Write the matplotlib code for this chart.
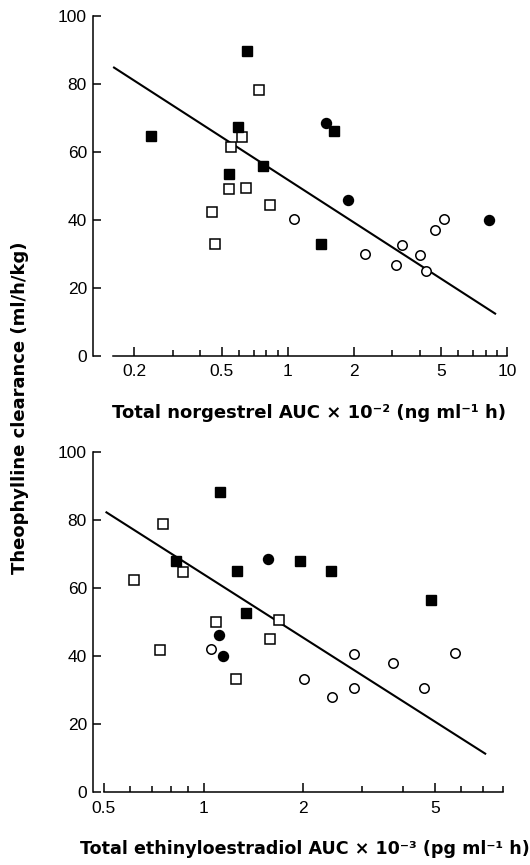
import matplotlib as mpl
mpl.use('Agg')
import matplotlib.pyplot as plt
from matplotlib.ticker import LogLocator, FixedLocator, NullFormatter

plt.rcParams['font.family'] = ['Liberation Sans', 'DejaVu Sans']
LABEL_FONT = ['DejaVu Sans']

# top panel: total norgestrel AUC x 10^-2
ng_fsq_x = [0.238, 0.653, 0.592, 0.540, 0.775, 1.62, 1.42]
ng_fsq_y = [64.6, 89.7, 67.4, 53.4, 55.9, 66.1, 33.0]
ng_fci_x = [1.50, 1.88, 8.30]
ng_fci_y = [68.6, 46.0, 40.0]
ng_osq_x = [0.738, 0.619, 0.552, 0.540, 0.646, 0.450, 0.468, 0.828]
ng_osq_y = [78.2, 64.3, 61.4, 49.1, 49.5, 42.3, 32.8, 44.4]
ng_oci_x = [1.065, 2.26, 3.11, 3.32, 4.01, 4.29, 4.71, 5.18]
ng_oci_y = [40.3, 30.0, 26.7, 32.6, 29.6, 24.9, 37.0, 40.3]
ng_fit_x = [0.160, 8.91]
ng_fit_y = [85.0, 12.3]

# bottom panel: total ethinyloestradiol AUC x 10^-3
ee_fsq_x = [1.119, 0.824, 1.265, 1.950, 2.42, 1.346, 4.85]
ee_fsq_y = [88.2, 68.0, 65.1, 68.0, 65.2, 52.8, 56.6]
ee_fci_x = [1.56, 1.114, 1.145]
ee_fci_y = [68.7, 46.2, 40.0]
ee_osq_x = [0.755, 0.615, 0.867, 0.741, 1.089, 1.25, 1.69, 1.59]
ee_osq_y = [78.8, 62.4, 64.7, 41.9, 50.2, 33.3, 50.7, 45.1]
ee_oci_x = [1.053, 2.01, 2.44, 2.85, 2.84, 3.74, 4.63, 5.73]
ee_oci_y = [42.1, 33.3, 27.9, 40.6, 30.6, 38.1, 30.7, 41.1]
ee_fit_x = [0.506, 7.13]
ee_fit_y = [82.5, 11.2]

yticks = [0, 20, 40, 60, 80, 100]


def draw_panel(ax, fsq, fci, osq, oci, fit, xlim, xbounds, xticks, xlabels,
               xlabel, label_xy, label_size):
    ax.plot(fit[0], fit[1], color='black', lw=1.5, solid_capstyle='butt', zorder=2)
    ax.plot(osq[0], osq[1], 's', ms=6.6, mfc='white', mec='black', mew=1.1,
            clip_on=False, zorder=3)
    ax.plot(oci[0], oci[1], 'o', ms=6.8, mfc='white', mec='black', mew=1.1,
            clip_on=False, zorder=3)
    ax.plot(fsq[0], fsq[1], 's', ms=7.2, mfc='black', mec='black',
            clip_on=False, zorder=4)
    ax.plot(fci[0], fci[1], 'o', ms=7.2, mfc='black', mec='black',
            clip_on=False, zorder=4)

    ax.set_xscale('log')
    ax.set_xlim(*xlim)
    ax.set_ylim(0, 100)
    for s in ['top', 'right']:
        ax.spines[s].set_visible(False)
    ax.spines['bottom'].set_bounds(*xbounds)
    ax.spines['left'].set_bounds(0, 100)
    for s in ['bottom', 'left']:
        ax.spines[s].set_linewidth(1.1)

    ax.xaxis.set_major_locator(FixedLocator(xticks))
    ax.set_xticklabels(xlabels)
    ax.xaxis.set_minor_locator(LogLocator(base=10, subs=range(2, 10)))
    ax.xaxis.set_minor_formatter(NullFormatter())
    ax.tick_params(axis='x', which='major', direction='in', length=6.5, width=1.1,
                   labelsize=12.5, pad=6)
    ax.tick_params(axis='x', which='minor', direction='in', length=4.5, width=1.1)
    ax.set_yticks(yticks)
    ax.tick_params(axis='y', direction='in', length=5.5, width=1.1,
                   labelsize=12.5, pad=4)
    ax.set_xlabel(xlabel, fontsize=label_size, fontweight='bold', family=LABEL_FONT,
                  va='center', ha='center')
    ax.xaxis.set_label_coords(*label_xy)


fig = plt.figure(figsize=(5.30, 8.65), dpi=100)
ax1 = fig.add_axes([92.5 / 530, 1 - 356 / 865, 414.5 / 530, 340 / 865])
ax2 = fig.add_axes([92.5 / 530, 1 - 792.3 / 865, 410.5 / 530, 340 / 865])

draw_panel(ax1, (ng_fsq_x, ng_fsq_y), (ng_fci_x, ng_fci_y), (ng_osq_x, ng_osq_y),
           (ng_oci_x, ng_oci_y), (ng_fit_x, ng_fit_y),
           (0.1288, 10.0), (0.16, 10.0),
           [0.2, 0.5, 1, 2, 5, 10], ['0.2', '0.5', '1', '2', '5', '10'],
           'Total norgestrel AUC \u00d7 10\u207b\u00b2 (ng ml\u207b\u00b9 h)',
           (0.523, -0.168), 13)
draw_panel(ax2, (ee_fsq_x, ee_fsq_y), (ee_fci_x, ee_fci_y), (ee_osq_x, ee_osq_y),
           (ee_oci_x, ee_oci_y), (ee_fit_x, ee_fit_y),
           (0.462, 8.02), (0.5, 8.0),
           [0.5, 1, 2, 5], ['0.5', '1', '2', '5'],
           'Total ethinyloestradiol AUC \u00d7 10\u207b\u00b3 (pg ml\u207b\u00b9 h)',
           (0.518, -0.167), 12.6)

fig.text(20 / 530, 1 - 408 / 865, 'Theophylline clearance (ml/h/kg)', rotation=90,
         ha='center', va='center', fontsize=13, fontweight='bold', family=LABEL_FONT)

fig.savefig('out.png', dpi=100)
